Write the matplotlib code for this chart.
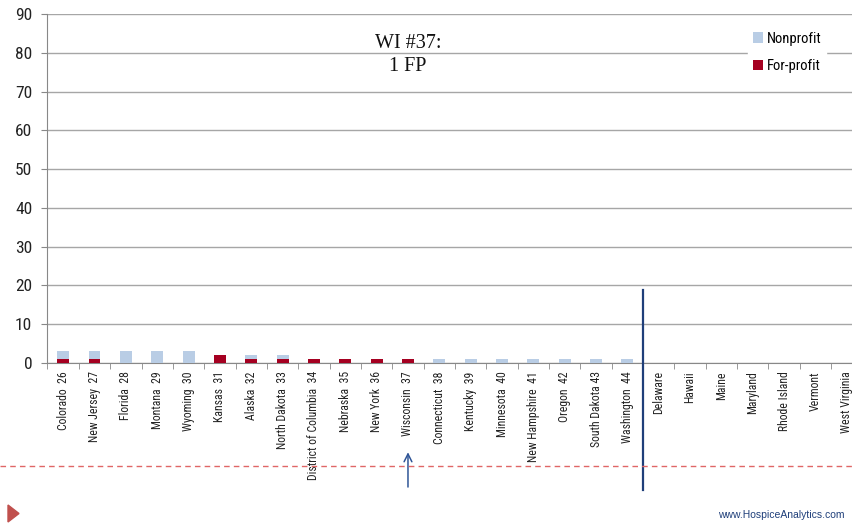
import matplotlib
matplotlib.use("Agg")
import matplotlib.pyplot as plt
from matplotlib import font_manager
from matplotlib.patches import Polygon
import numpy as np

states = ["Colorado  26", "New Jersey  27", "Florida  28", "Montana  29", "Wyoming  30",
          "Kansas  31", "Alaska  32", "North Dakota  33", "District of Columbia  34",
          "Nebraska  35", "New York  36", "Wisconsin  37", "Connecticut  38", "Kentucky  39",
          "Minnesota  40", "New Hampshire  41", "Oregon  42", "South Dakota 43",
          "Washington  44", "Delaware", "Hawaii", "Maine", "Maryland", "Rhode Island",
          "Vermont", "West Virginia"]
for_profit = [1, 1, 0, 0, 0, 2, 1, 1, 1, 1, 1, 1, 0, 0, 0, 0, 0, 0, 0, 0, 0, 0, 0, 0, 0, 0]
nonprofit = [2, 2, 3, 3, 3, 0, 1, 1, 0, 0, 0, 0, 1, 1, 1, 1, 1, 1, 1, 0, 0, 0, 0, 0, 0, 0]
y_ticks = [0, 10, 20, 30, 40, 50, 60, 70, 80, 90]
highlight = 11
divider = 18.5
note = "WI #37:\n1 FP"

installed = {f.name for f in font_manager.fontManager.ttflist}
narrow = [f for f in ["Liberation Sans Narrow", "Arial Narrow", "Roboto Condensed",
                      "Open Sans Condensed", "DejaVu Sans Condensed"] if f in installed]
sans = narrow[:1] + [f for f in ["Liberation Sans", "DejaVu Sans"] if f in installed]
plt.rcParams["font.family"] = sans
condensed = bool(narrow)
label_size = 8.5 if condensed else 6.6
tick_size = 12.5 if condensed else 10.5
legend_size = 10.5 if condensed else 9.5

NP_COLOR = "#b9cde5"
FP_COLOR = "#a50021"
GRID = "#a6a6a6"

fig = plt.figure(figsize=(8.53, 5.25), dpi=100)
ax = fig.add_axes([47.5 / 853, 162 / 525, 815 / 853, 349 / 525])

x = np.arange(len(states))
w = 0.38
ax.bar(x, for_profit, width=w, color=FP_COLOR, zorder=3, label="For-profit")
ax.bar(x, nonprofit, width=w, bottom=for_profit, color=NP_COLOR, zorder=3, label="Nonprofit")

ax.set_xlim(-0.5, len(states) - 0.5)
ax.set_ylim(0, 90)
ax.set_yticks(y_ticks)
ax.set_yticklabels([str(v) for v in y_ticks], fontsize=tick_size, color="#222222")
ax.yaxis.grid(True, color=GRID, linewidth=1, zorder=0)
ax.set_axisbelow(True)

ax.set_xticks(x)
ax.set_xticklabels(states, rotation=90, fontsize=label_size, color="#222222", va="top")
ax.tick_params(axis="x", which="major", length=0, pad=6)
ax.set_xticks(np.arange(-0.5, len(states)), minor=True)
ax.tick_params(axis="x", which="minor", length=4, color="#888888", direction="out")
ax.tick_params(axis="y", length=4.5, color="#888888", pad=6.5)

for s in ["top", "right"]:
    ax.spines[s].set_visible(False)
for s in ["left", "bottom"]:
    ax.spines[s].set_color("#888888")

# divider between ranked states and those with no hospices
ax.plot([divider, divider], [18.7, -32.7], color="#1f3f7a", linewidth=1.6,
        clip_on=False, zorder=5)

# arrow pointing to the highlighted state
ax.annotate("", xy=(highlight, -22.3), xytext=(highlight, -32.7),
            arrowprops=dict(arrowstyle="->", color="#2f5597", lw=1.1,
                            mutation_scale=14),
            annotation_clip=False)

ax.text(highlight, 79.4, note, ha="center", va="center", fontsize=14.5,
        family=["Liberation Serif", "DejaVu Serif"], color="#111111",
        linespacing=1.3, zorder=4)

handles, labels = ax.get_legend_handles_labels()
leg = ax.legend(handles[::-1], labels[::-1], loc="upper left",
                bbox_to_anchor=(0.86, 0.962), frameon=True, fontsize=legend_size,
                handlelength=0.7, handleheight=0.7, handletextpad=0.3,
                labelspacing=0.9, borderpad=0.3, borderaxespad=0)
leg.get_frame().set_edgecolor("white")
leg.get_frame().set_facecolor("white")
leg.get_frame().set_alpha(1)

# footer: dashed rule, marker triangle and web address
fig.add_artist(plt.Line2D([0, 1], [1 - 466 / 525, 1 - 466 / 525],
                          transform=fig.transFigure, color="#e06666",
                          linewidth=1, linestyle=(0, (4, 3))))
tri = Polygon([[8 / 853, 1 - 505 / 525], [8 / 853, 1 - 522 / 525],
               [19 / 853, 1 - 513.5 / 525]], closed=True,
              transform=fig.transFigure, color="#c0504d")
fig.add_artist(tri)
fig.text(845 / 853, 1 - 515 / 525, "www.HospiceAnalytics.com", ha="right",
         va="center", fontsize=7.5, color="#1f3f7a",
         family=["Liberation Sans", "DejaVu Sans"])

fig.savefig("out.png", dpi=100)
